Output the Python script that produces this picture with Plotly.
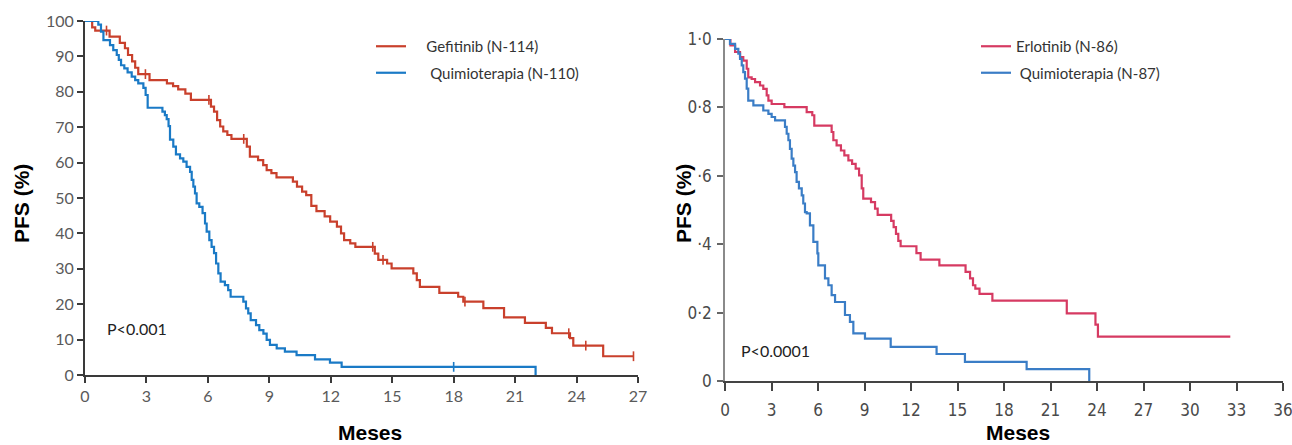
import plotly.graph_objects as go

# ---------------- Data: left panel (Gefitinib vs Quimioterapia), PFS in % --------------
gef_t = [0, 0.35, 0.5, 1.2, 1.7, 1.95, 2.1, 2.3, 2.45, 2.6, 3.15, 4.0, 4.3, 4.55, 4.9, 5.17,
         6.15, 6.3, 6.45, 6.6, 6.75, 6.95, 7.15, 7.9, 8.05, 8.45, 8.7, 8.87, 9.1, 9.35,
         10.15, 10.35, 10.6, 10.8, 11.05, 11.3, 11.7, 11.97, 12.3, 12.5, 12.65, 12.95, 13.2,
         14.15, 14.32, 14.75, 14.97, 16.03, 16.2, 16.35, 17.3, 18.22, 18.47, 19.45, 20.46,
         21.48, 22.5, 22.8, 23.68, 23.84, 25.3, 26.78]
gef_s = [100, 98.2, 97.3, 95.6, 93.8, 92.3, 90.4, 88.6, 86.8, 85.0, 83.3, 82.4, 81.6, 80.7, 79.5, 77.7,
         75.8, 74.4, 72.0, 70.2, 68.8, 67.8, 66.7, 64.5, 61.7, 60.7, 59.3, 57.9, 57.0, 55.8,
         54.6, 53.2, 51.8, 50.8, 47.8, 46.3, 44.8, 43.3, 41.9, 40.0, 38.1, 37.2, 36.2,
         34.3, 32.5, 31.5, 30.1, 28.7, 26.8, 24.9, 23.2, 22.1, 20.7, 18.9, 16.3,
         14.7, 13.3, 11.8, 10.4, 8.3, 5.3, 5.3]
gef_cens_t = [1.05, 2.95, 6.05, 7.75, 14.05, 14.55, 18.55, 23.62, 24.45, 26.78]
gef_cens_s = [97.3, 85.0, 77.7, 66.7, 36.2, 32.5, 20.7, 11.8, 8.3, 5.3]

qt1_t = [0, 0.65, 0.78, 0.9, 1.22, 1.38, 1.55, 1.65, 1.76, 1.92, 2.08, 2.28, 2.45, 2.6, 2.85,
         2.96, 3.06, 3.78, 3.9, 3.99, 4.08, 4.15, 4.31, 4.44, 4.64, 4.8, 4.96, 5.13, 5.21,
         5.29, 5.37, 5.45, 5.58, 5.74, 5.86, 5.94, 6.07, 6.18, 6.3, 6.4, 6.51, 6.62, 6.83,
         6.99, 7.11, 7.73, 7.86, 7.97, 8.09, 8.35, 8.51, 8.71, 8.87, 9.03, 9.36, 9.76,
         10.33, 11.23, 11.96, 12.53, 22.0]
qt1_s = [100, 99.0, 97.0, 94.6, 93.2, 91.8, 90.4, 89.0, 87.5, 86.6, 85.5, 84.3, 83.3, 82.4, 81.1,
         79.1, 75.5, 74.4, 73.4, 72.3, 70.3, 66.5, 64.5, 62.3, 61.2, 60.3, 58.8, 57.4, 55.1,
         53.2, 51.3, 48.5, 47.5, 45.7, 42.8, 40.5, 38.1, 36.2, 34.4, 31.5, 28.7, 26.4, 25.4,
         24.0, 22.1, 20.7, 18.8, 17.4, 15.5, 14.1, 12.7, 11.7, 9.9, 8.5, 7.5, 6.6,
         5.6, 4.4, 3.5, 2.3, 0]
qt1_cens_t = [18.0]
qt1_cens_s = [2.3]

# ---------------- Data: right panel (Erlotinib vs Quimioterapia), PFS proportion ------
erl_t = [0, 0.35, 0.65, 0.97, 1.18, 1.4, 1.5, 1.72, 1.94, 2.26, 2.47, 2.69, 2.8, 3.01, 3.83,
         5.27, 5.63, 5.76, 6.88, 6.99, 7.2, 7.48, 7.7, 7.96, 8.2, 8.43, 8.65, 8.82, 8.92,
         9.42, 9.68, 9.85, 10.72, 10.88, 11.03, 11.18, 11.33, 12.35, 12.62, 13.83, 15.52,
         15.81, 16.0, 16.15, 16.42, 17.25, 22.05, 23.9, 24.06, 32.6]
erl_s = [1.0, 0.981, 0.962, 0.947, 0.937, 0.913, 0.888, 0.883, 0.874, 0.864, 0.854, 0.835, 0.82,
         0.81, 0.801, 0.786, 0.777, 0.747, 0.728, 0.704, 0.689, 0.674, 0.66, 0.645, 0.635, 0.621,
         0.601, 0.563, 0.533, 0.523, 0.504, 0.486, 0.468, 0.45, 0.43, 0.41, 0.394, 0.374, 0.355,
         0.338, 0.319, 0.3, 0.28, 0.27, 0.255, 0.235, 0.198, 0.165, 0.13, 0.13]

qt2_t = [0, 0.32, 0.65, 0.86, 0.97, 1.08, 1.18, 1.29, 1.4, 1.5, 1.83, 2.47, 2.8, 3.01, 3.23,
         3.87, 3.98, 4.09, 4.19, 4.3, 4.41, 4.52, 4.62, 4.77, 4.95, 5.05, 5.16, 5.27, 5.48,
         5.7, 5.96, 6.02, 6.45, 6.67, 6.88, 7.1, 7.74, 8.06, 8.28, 9.03, 10.69, 13.65,
         15.48, 19.46, 23.5]
qt2_s = [1.0, 0.986, 0.971, 0.957, 0.942, 0.923, 0.903, 0.884, 0.855, 0.82, 0.806, 0.791, 0.781,
         0.772, 0.762, 0.743, 0.723, 0.704, 0.679, 0.65, 0.63, 0.611, 0.582, 0.563, 0.543, 0.519,
         0.494, 0.49, 0.455, 0.407, 0.373, 0.338, 0.3, 0.28, 0.251, 0.231, 0.193, 0.173, 0.139,
         0.124, 0.1, 0.079, 0.056, 0.035, 0.0]

x1_ticks = [0, 3, 6, 9, 12, 15, 18, 21, 24, 27]
y1_ticks = [0, 10, 20, 30, 40, 50, 60, 70, 80, 90, 100]
x2_ticks = [0, 3, 6, 9, 12, 15, 18, 21, 24, 27, 30, 33, 36]
y2_ticks = [0, 0.2, 0.4, 0.6, 0.8, 1.0]
y2_ticktext = ["0", "0·2", "·4", "·6", "0·8", "1·0"]

# ---------------- Styles ----------------
W, H = 1292, 445
RED1, BLUE1 = "#c9402c", "#1a7ac6"
RED2, BLUE2 = "#d63a62", "#3a7dc6"
NB = "\u00a0"

fig = go.Figure()

def step(x, y, color, name, xa, ya, legend, group):
    fig.add_trace(go.Scatter(x=x, y=y, mode="lines", line=dict(color=color, width=2.2, shape="hv"),
                             name=name, xaxis=xa, yaxis=ya, legend=legend, legendgroup=group,
                             cliponaxis=False, hoverinfo="skip"))

def cens(x, y, color, xa, ya):
    fig.add_trace(go.Scatter(x=x, y=y, mode="markers", xaxis=xa, yaxis=ya, showlegend=False,
                             marker=dict(symbol="line-ns", size=7, line=dict(color=color, width=1.6)),
                             cliponaxis=False, hoverinfo="skip"))

step(gef_t, gef_s, RED1, NB * 4 + "Gefitinib (N-114)", "x", "y", "legend", "a")
step(qt1_t, qt1_s, BLUE1, NB * 5 + "Quimioterapia (N-110)", "x", "y", "legend", "b")
cens(gef_cens_t, gef_cens_s, RED1, "x", "y")
cens(qt1_cens_t, qt1_cens_s, BLUE1, "x", "y")
step(erl_t, erl_s, RED2, "Erlotinib (N-86)", "x2", "y2", "legend2", "c")
step(qt2_t, qt2_s, BLUE2, NB + "Quimioterapia (N-87)", "x2", "y2", "legend2", "d")

tickfont1 = dict(family="Lato, Open Sans, sans-serif", size=16, color="#5a5a5a")
tickfont2 = dict(family="Liberation Sans Narrow, DejaVu Sans Condensed, sans-serif", size=17, color="#4a4a4a")

fig.update_layout(
    width=W, height=H, autosize=False, margin=dict(l=0, r=0, t=0, b=0, autoexpand=False),
    paper_bgcolor="white", plot_bgcolor="white",
    xaxis=dict(domain=[85 / W, 638 / W], range=[0, 27], tickvals=x1_ticks, showgrid=False, zeroline=False,
               showline=True, linecolor="#3a3a3a", linewidth=2, ticks="outside", ticklen=6, tickwidth=2,
               tickcolor="#3a3a3a", tickfont=tickfont1, anchor="y", fixedrange=True, automargin=False),
    yaxis=dict(domain=[1 - 375 / H, 1 - 21 / H], range=[0, 100], tickvals=y1_ticks, showgrid=False,
               zeroline=False, showline=True, linecolor="#3a3a3a", linewidth=2, ticks="outside", ticklen=6,
               tickwidth=2, tickcolor="#3a3a3a", tickfont=tickfont1, anchor="x", fixedrange=True,
               automargin=False),
    xaxis2=dict(domain=[725 / W, 1283 / W], range=[0, 36], tickvals=x2_ticks, showgrid=False, zeroline=False,
                showline=True, linecolor="#444444", linewidth=2, ticks="outside", ticklen=8, tickwidth=2,
                tickcolor="#444444", tickfont=tickfont2, anchor="y2", ticklabelstandoff=5, fixedrange=True,
                automargin=False, ticklabeloverflow="allow"),
    yaxis2=dict(domain=[1 - 381 / H, 1 - 39 / H], range=[0, 1.0], tickvals=y2_ticks, ticktext=y2_ticktext,
                showgrid=False, zeroline=False, showline=True, linecolor="#8a8a8a", linewidth=1.5,
                ticks="outside", ticklen=6, tickwidth=1.5, tickcolor="#666666", tickfont=tickfont2,
                anchor="x2", ticklabelstandoff=2, fixedrange=True, automargin=False),
    legend=dict(x=371 / W, y=1 - 30 / H, xanchor="left", yanchor="top", bgcolor="rgba(0,0,0,0)",
                font=dict(family="Lato, Open Sans, sans-serif", size=15, color="#333333"),
                tracegroupgap=4, traceorder="grouped"),
    legend2=dict(x=976 / W, y=1 - 30 / H, xanchor="left", yanchor="top", bgcolor="rgba(0,0,0,0)",
                 font=dict(family="Lato, Open Sans, sans-serif", size=15, color="#333333"),
                 tracegroupgap=4, traceorder="grouped"),
    showlegend=True,
)

title_font = dict(family="Liberation Sans, Arial, sans-serif", size=21, color="black")
fig.add_annotation(text="<b>PFS (%)</b>", xref="paper", yref="paper", x=22 / W, y=1 - 204 / H,
                   textangle=-90, showarrow=False, font=title_font, xanchor="center", yanchor="middle")
fig.add_annotation(text="<b>PFS (%)</b>", xref="paper", yref="paper", x=684 / W, y=1 - 204 / H,
                   textangle=-90, showarrow=False, font=title_font, xanchor="center", yanchor="middle")
fig.add_annotation(text="<b>Meses</b>", xref="paper", yref="paper", x=370 / W, y=1 - 432 / H,
                   showarrow=False, font=title_font, xanchor="center", yanchor="middle")
fig.add_annotation(text="<b>Meses</b>", xref="paper", yref="paper", x=1018 / W, y=1 - 432 / H,
                   showarrow=False, font=title_font, xanchor="center", yanchor="middle")

pfont = dict(family="Lato, Open Sans, sans-serif", size=16, color="#222222")
fig.add_annotation(text="P<0.001", xref="x", yref="y", x=1.0, y=13, showarrow=False, font=pfont,
                   xanchor="left", yanchor="middle")
fig.add_annotation(text="P<0.0001", xref="x2", yref="y2", x=0.9, y=0.09, showarrow=False, font=pfont,
                   xanchor="left", yanchor="middle")

fig.write_html("out.html", config={"displayModeBar": False})
